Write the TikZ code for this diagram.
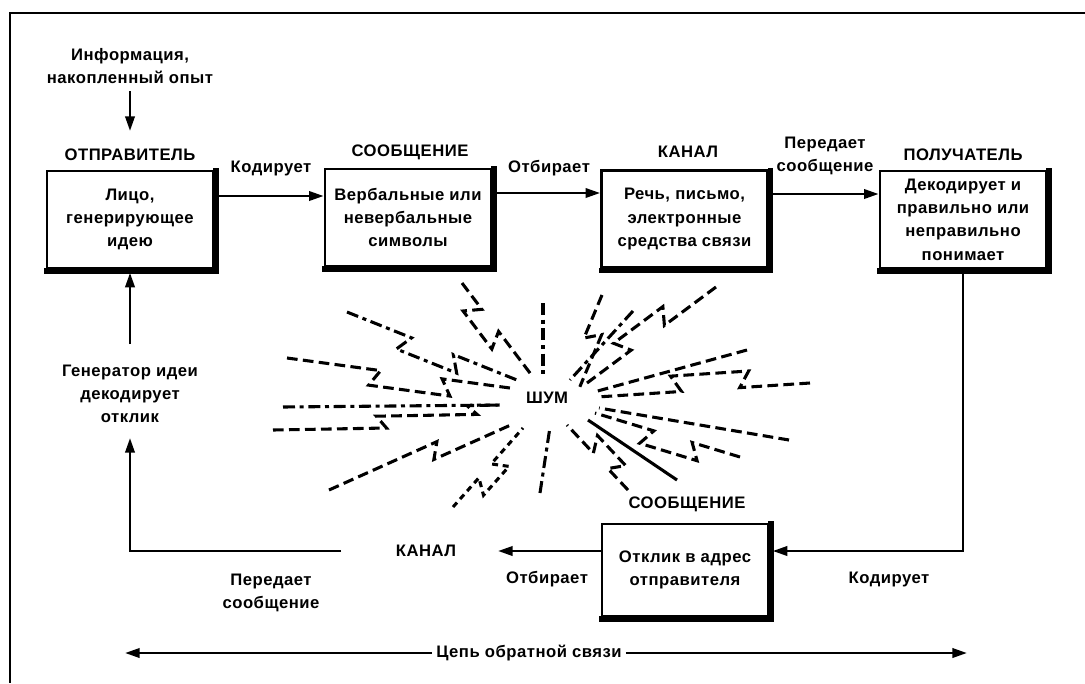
\documentclass[tikz,border=0pt]{standalone}
\usepackage{fontspec}
\setmainfont{Liberation Sans}[LetterSpace=3]
\usetikzlibrary{arrows.meta,calc}
\newcommand\zray[7]{%
  \pgfmathsetmacro\Zdx{#4-#2}%
  \pgfmathsetmacro\Zdy{#5-#3}%
  \pgfmathsetmacro\Zlen{veclen(\Zdx,\Zdy)}%
  \pgfmathsetmacro\Znx{-\Zdy/\Zlen}%
  \pgfmathsetmacro\Zny{\Zdx/\Zlen}%
  \pgfmathsetmacro\Zbk{10/\Zlen}%
  \draw[#1] (#2,#3) \foreach \Zt/\Zoa/\Zob in {#6} {
      -- ({#2+\Zt*\Zdx+\Zoa*\Znx},{#3+\Zt*\Zdy+\Zoa*\Zny})
      -- ({#2+(\Zt-\Zbk)*\Zdx+\Zob*\Znx},{#3+(\Zt-\Zbk)*\Zdy+\Zob*\Zny}) }
      -- ({#4+#7*\Znx},{#5+#7*\Zny});
}
\newcommand\shadowof[1]{\draw[shadowln] ([xshift=1.2pt,yshift=1pt]#1.north east) -- ([xshift=1.2pt,yshift=-1.2pt]#1.south east) -- ([xshift=-1pt,yshift=-1.2pt]#1.south west);}
\tikzset{
  every node/.style={font=\fontsize{12.5}{17.5}\selectfont\bfseries, inner sep=0pt, align=center},
  box/.style={draw, line width=2pt, minimum width=124.5pt, minimum height=72.75pt},
  shadowln/.style={line width=4pt},
  arr/.style={line width=2pt, -{Triangle[length=11pt,width=7pt]}},
  noise/.style={line width=2.3pt},
  nd/.style={noise, dash pattern=on 8pt off 4pt},
  ndd/.style={noise, dash pattern=on 9pt off 3.5pt on 3pt off 3.5pt},
  nds/.style={noise, dash pattern=on 4.5pt off 3.5pt},
  ns/.style={noise},
  frame/.style={line width=1.6pt}
}
\begin{document}
\begin{tikzpicture}[x=0.75pt,y=-0.75pt]
\useasboundingbox (0,0) rectangle (1085,683);
\fill[white] (0,0) rectangle (1085,683);
% frame
\draw[frame] (1085,13) -- (10,13) -- (10,683);

% helper levels
\coordinate (y1) at (0,196);
\coordinate (y2) at (0,193);
\coordinate (y3) at (0,194);
\coordinate (y5) at (0,551);

% boxes
\node[box] (S) at (130,219.5) {Лицо,\\генерирующее\\идею};
\node[box] (M) at (408,217.5) {Вербальные или\\невербальные\\символы};
\node[box] (C) at (684.5,219) {Речь, письмо,\\электронные\\средства связи};
\node[box] (R) at (963,219.5) {Декодирует и\\правильно или\\неправильно\\понимает};
\node[box, minimum height=69pt] (F) at (685,570) {Отклик в адрес\\отправителя};
\shadowof{S}\shadowof{M}\shadowof{C}\shadowof{R}\shadowof{F}

% labels
\node (info) at (130,66) {Информация,\\накопленный опыт};
\node (lblS) at (130,155) {ОТПРАВИТЕЛЬ};
\node (lblM) at (410,152) {СООБЩЕНИЕ};
\node (lblC) at (688,152) {КАНАЛ};
\node (lblR) at (963,155) {ПОЛУЧАТЕЛЬ};
\node (enc1) at (271,168) {Кодирует};
\node (sel1) at (549,168) {Отбирает};
\node (tr1) at (825,156) {Передает\\сообщение};
\node (gen) at (130,394) {Генератор идеи\\декодирует\\отклик};
\node (K2) at (426,551) {КАНАЛ};
\node (tr2) at (271,593) {Передает\\сообщение};
\node (sel2) at (547,579) {Отбирает};
\node (enc2) at (889,579) {Кодирует};
\node (lblF) at (687,504) {СООБЩЕНИЕ};
\node (noise) at (547,398) {ШУМ};
\node (fbt) at (529,653) {Цепь обратной связи};

% connectors
\draw[arr, shorten <=18.75pt, shorten >=18pt] (info.center) -- (lblS.center);
\draw[arr] (S.east |- y1) -- (M.west |- y1);
\draw[arr] (M.east |- y2) -- (C.west |- y2);
\draw[arr] (C.east |- y3) -- (R.west |- y3);
\draw[arr, shorten >=2.5pt] (R.south) |- (F.east |- y5);
\coordinate (k2tip) at (498,551);
\draw[arr] (F.west |- y5) -- (k2tip);
\coordinate (fbs) at (341,551);
\draw[arr, shorten >=33pt] (fbs) -| (gen.center);
\draw[arr, shorten <=37.5pt, shorten >=2.5pt] (gen.center) -- (S.south);
\coordinate (lt) at (125,653);
\coordinate (rt) at (967,653);
\draw[arr] ([xshift=-3pt]fbt.west) -- (lt);
\draw[arr] ([xshift=3pt]fbt.east) -- (rt);

% noise rays
\zray{nd}{462}{283}{533}{377}{0.28/0/16, 0.6/16/0}{0}
\zray{ndd}{347}{312}{517}{380}{0.38/0/16, 0.68/16/0}{0}
\zray{nd}{287}{358}{510}{388}{0.42/0/16, 0.74/16/0}{0}
\draw[ndd] (283,407) -- (500,405);
\zray{nd}{273}{430}{500}{426}{0.5/0/-12, 0.9/-12/-21}{-21}
\zray{nd}{329}{490}{503}{412}{0.62/0/15}{15}
\zray{nds}{453}{507}{523}{428}{0.37/0/15, 0.64/15/0}{0}
\draw[ndd] (540,493) -- (550,427);
\zray{nd}{628}{490}{567}{425}{0.33/0/15, 0.68/15/0}{0}
\draw[ns] (677,480) -- (588,420);
\zray{nd}{740}{457}{595}{413}{0.33/0/-16, 0.66/-16/0}{0}
\draw[nd] (789,440) -- (599,408);
\zray{nd}{810}{383}{597}{397}{0.33/0/16, 0.65/16/0}{0}
\draw[nd] (747,350) -- (594,392);
\zray{nd}{716}{287}{587}{383}{0.4/0/16, 0.72/16/0}{0}
\draw[ndd] (633,311) -- (570,380);
\zray{nd}{602}{295}{566}{381}{0.5/0/-15}{-15}
\draw[ndd] (543,303) -- (543,377);
\end{tikzpicture}
\end{document}
